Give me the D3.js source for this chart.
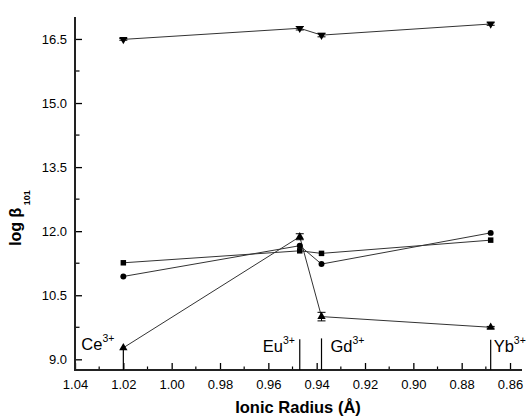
<!DOCTYPE html>
<html><head><meta charset="utf-8">
<script src="https://cdn.jsdelivr.net/npm/d3@7/dist/d3.min.js"></script>
<style>body{margin:0;background:#fff}svg{display:block;font-family:"Liberation Sans",Arial,sans-serif}</style>
</head><body><svg id="c" width="532" height="417"></svg>
<script>
// data
const ionNames = ["Ce", "Eu", "Gd", "Yb"];
const ionicRadius = [1.02, 0.947, 0.938, 0.868];
const starValues = [16.49, 16.75, 16.59, 16.85];
const starErrors = [0.02, 0.04, 0.04, 0.03];
const circleValues = [10.94, 11.66, 11.23, 11.96];
const squareValues = [11.26, 11.54, 11.48, 11.79];
const triangleValues = [9.27, 11.87, 10.0, 9.75];
const triangleErrors = [0, 0.07, 0.1, 0.02];
const markerTops = [9.27, 9.47, 9.49, 9.46];
const xTicks = [1.04, 1.02, 1.00, 0.98, 0.96, 0.94, 0.92, 0.90, 0.88, 0.86];
const xMinor = [1.03, 1.01, 0.99, 0.97, 0.95, 0.93, 0.91, 0.89, 0.87];
const yTicks = [9.0, 10.5, 12.0, 13.5, 15.0, 16.5];
const yMinor = [9.75, 11.25, 12.75, 14.25, 15.75];

const svg = d3.select("#c");
const x = d3.scaleLinear().domain([1.04, 0.855]).range([75, 522.1]);
const y = d3.scaleLinear().domain([8.75, 17.0]).range([370, 17.6]);

// axes
const gx = svg.append("g").attr("transform", "translate(0,370)")
  .call(d3.axisBottom(x).tickValues(xTicks).tickFormat(d3.format(".2f")).tickSizeInner(-7).tickSizeOuter(0).tickPadding(10));
gx.select(".domain").remove();
gx.selectAll("text").attr("font-size", 13).attr("fill", "#000").attr("font-family", "Liberation Sans, Arial");
gx.selectAll("line").attr("stroke", "#000").attr("stroke-width", 1.3);
svg.append("g").selectAll("line").data(xMinor).join("line")
  .attr("x1", d => x(d)).attr("x2", d => x(d)).attr("y1", 370).attr("y2", 366.5)
  .attr("stroke", "#000").attr("stroke-width", 1.2);

const gy = svg.append("g").attr("transform", "translate(75,0)")
  .call(d3.axisLeft(y).tickValues(yTicks).tickFormat(d3.format(".1f")).tickSizeInner(-7).tickSizeOuter(0).tickPadding(8));
gy.select(".domain").remove();
gy.selectAll("text").attr("font-size", 13).attr("fill", "#000").attr("font-family", "Liberation Sans, Arial");
gy.selectAll("line").attr("stroke", "#000").attr("stroke-width", 1.3);
svg.append("g").selectAll("line").data(yMinor).join("line")
  .attr("x1", 75).attr("x2", 79.5).attr("y1", d => y(d)).attr("y2", d => y(d))
  .attr("stroke", "#000").attr("stroke-width", 1.2);

svg.append("line").attr("x1", 75).attr("x2", 75).attr("y1", 17).attr("y2", 371).attr("stroke", "#222").attr("stroke-width", 2);
svg.append("line").attr("x1", 74).attr("x2", 522).attr("y1", 370).attr("y2", 370).attr("stroke", "#222").attr("stroke-width", 2);

// ion marker lines and labels
svg.append("g").selectAll("line").data(ionicRadius).join("line")
  .attr("x1", d => x(d)).attr("x2", d => x(d)).attr("y1", 370).attr("y2", (d, i) => y(markerTops[i]))
  .attr("stroke", "#000").attr("stroke-width", 1.2);
const labelOffsets = [[-42, -20], [-37, -18.5], [9, -18.5], [3, -18.5]];
ionNames.forEach((n, i) => {
  const t = svg.append("text").attr("x", x(ionicRadius[i]) + labelOffsets[i][0]).attr("y", 370 + labelOffsets[i][1])
    .attr("font-size", 16.5).attr("fill", "#000");
  t.append("tspan").text(n);
  t.append("tspan").text("3+").attr("font-size", 10.5).attr("dy", -8);
});

// series lines
const line = d3.line().x((d, i) => x(ionicRadius[i])).y(d => y(d));
[starValues, circleValues, squareValues, triangleValues].forEach(s => {
  svg.append("path").attr("d", line(s)).attr("fill", "none").attr("stroke", "#333").attr("stroke-width", 1);
});

// error bars
function errBars(vals, errs) {
  vals.forEach((v, i) => {
    if (!errs[i]) return;
    const cx = x(ionicRadius[i]);
    const g = svg.append("g").attr("stroke", "#000").attr("stroke-width", 1);
    g.append("line").attr("x1", cx).attr("x2", cx).attr("y1", y(v - errs[i])).attr("y2", y(v + errs[i]));
    g.append("line").attr("x1", cx - 4).attr("x2", cx + 4).attr("y1", y(v - errs[i])).attr("y2", y(v - errs[i]));
    g.append("line").attr("x1", cx - 4).attr("x2", cx + 4).attr("y1", y(v + errs[i])).attr("y2", y(v + errs[i]));
  });
}
errBars(starValues, starErrors);
errBars(triangleValues, triangleErrors);

// markers
const sym = (type, size) => d3.symbol().type(type).size(size)();
function markers(vals, path, rot) {
  svg.append("g").selectAll("path").data(vals).join("path")
    .attr("d", path)
    .attr("transform", (d, i) => `translate(${x(ionicRadius[i])},${y(d)})` + (rot ? ` rotate(${rot})` : ""))
    .attr("fill", "#000");
}
markers(starValues, sym(d3.symbolTriangle, 30), 180);
markers(circleValues, sym(d3.symbolCircle, 28));
markers(squareValues, sym(d3.symbolSquare, 30));
markers(triangleValues, sym(d3.symbolTriangle, 30));

// axis titles
svg.append("text").attr("x", 298).attr("y", 413).attr("text-anchor", "middle")
  .attr("font-size", 16.5).attr("font-weight", "bold").text("Ionic Radius (Å)");
const yl = svg.append("text").attr("transform", "translate(21,218) rotate(-90)").attr("text-anchor", "middle")
  .attr("font-size", 16).attr("font-weight", "bold");
yl.append("tspan").text("log β");
yl.append("tspan").text(" 101").attr("font-size", 9).attr("dy", 9);
</script></body></html>
